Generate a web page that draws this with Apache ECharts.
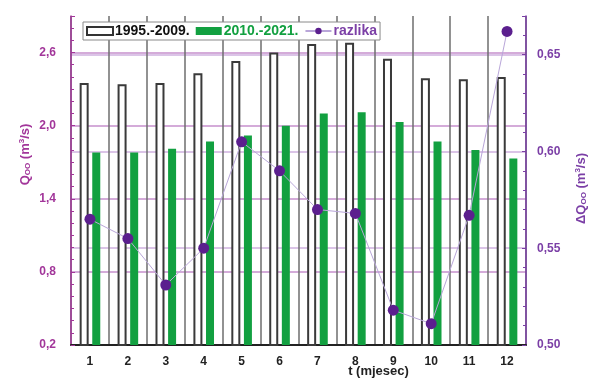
<!DOCTYPE html>
<html>
<head>
<meta charset="utf-8">
<script src="https://cdn.jsdelivr.net/npm/echarts@6/dist/echarts.min.js"></script>
<style>
html,body{margin:0;padding:0;background:#fff;}
#c{width:593px;height:379px;}
</style>
</head>
<body>
<div id="c"></div>
<script>
var months = ['1','2','3','4','5','6','7','8','9','10','11','12'];
var q1995 = [2.35, 2.34, 2.35, 2.43, 2.53, 2.60, 2.67, 2.68, 2.55, 2.39, 2.38, 2.40];
var q2010 = [1.78, 1.78, 1.81, 1.87, 1.92, 2.00, 2.10, 2.11, 2.03, 1.87, 1.80, 1.73];
var razlika = [0.565, 0.555, 0.531, 0.550, 0.605, 0.590, 0.570, 0.568, 0.518, 0.511, 0.567, 0.662];
var leftTicks = [0.2, 0.8, 1.4, 2.0, 2.6];
var rightTicks = [0.50, 0.55, 0.60, 0.65];

var FONT = '"Liberation Sans", Arial, sans-serif';
var MAG = '#a2369a';
var PUR = '#7b3fa6';
var GRID_PUR = '#c68fcd';

var chart = echarts.init(document.getElementById('c'), null, {renderer: 'canvas'});

function comma(v, dec) { return v.toFixed(dec).replace('.', ','); }

var option = {
  animation: false,
  backgroundColor: '#fff',
  grid: {left: 71, right: 67, top: 16, bottom: 34, outerBoundsMode: 'none', containLabel: false},
  legend: {
    left: 83, top: 22,
    backgroundColor: '#fff',
    borderColor: '#8a8a8a', borderWidth: 1,
    padding: [2, 3, 2, 3],
    itemGap: 6, itemWidth: 26, itemHeight: 8,
    textStyle: {fontFamily: FONT, fontWeight: 'bold', fontSize: 14, padding: [0, 0, 0, -3]},
    data: [
      {name: '1995.-2009.', icon: 'rect', itemStyle: {color: '#fff', borderColor: '#333', borderWidth: 2}, textStyle: {color: '#111'}},
      {name: '2010.-2021.', icon: 'rect', textStyle: {color: '#12a040'}},
      {name: 'razlika', textStyle: {color: PUR}}
    ]
  },
  xAxis: {
    type: 'category',
    data: months,
    boundaryGap: true,
    axisLine: {show: true, lineStyle: {color: '#222', width: 2}},
    axisTick: {show: false},
    splitLine: {show: true, lineStyle: {color: '#6e6e6e', width: 1.5}},
    axisLabel: {color: '#222', fontFamily: FONT, fontWeight: 'bold', fontSize: 12, margin: 11},
    name: 't (mjesec)',
    nameLocation: 'middle',
    nameMoveOverlap: false,
    nameGap: 20,
    nameTextStyle: {color: '#222', fontFamily: FONT, fontWeight: 'bold', fontSize: 13, padding: [0, 0, 0, 160]}
  },
  yAxis: [
    {
      type: 'value',
      min: 0.2, max: 2.9, interval: 0.6,
      axisLine: {show: true, lineStyle: {color: MAG, width: 1.5}},
      axisTick: {show: true, inside: true, length: 4, lineStyle: {color: MAG}},
      minorTick: {show: true, splitNumber: 6, length: 3, lineStyle: {color: MAG}},
      axisLabel: {
        color: MAG, fontFamily: FONT, fontWeight: 'bold', fontSize: 12, margin: 15,
        showMaxLabel: false,
        formatter: function (v) { return leftTicks.some(function (t) { return Math.abs(t - v) < 1e-6; }) ? comma(v, 1) : ''; }
      },
      splitLine: {show: true, lineStyle: {color: ['rgba(0,0,0,0)', GRID_PUR, GRID_PUR, GRID_PUR, GRID_PUR, 'rgba(0,0,0,0)'], width: 1.5}},
      name: '{a|Q}{s|OO}{a| (m}{p|3}{a|/s)}',
      nameLocation: 'middle',
      nameMoveOverlap: false,
      nameRotate: 90,
      nameGap: 39,
      nameTextStyle: {
        color: MAG, padding: [0, 0, 0, 52],
        rich: {
          a: {color: MAG, fontFamily: FONT, fontWeight: 'bold', fontSize: 13},
          s: {color: MAG, fontFamily: FONT, fontWeight: 'bold', fontSize: 8, verticalAlign: 'bottom', padding: [6, 0, 0, 0]},
          p: {color: MAG, fontFamily: FONT, fontWeight: 'bold', fontSize: 8, verticalAlign: 'top', padding: [0, 0, 6, 0]}
        }
      }
    },
    {
      type: 'value',
      position: 'right',
      min: 0.5, max: 0.67, interval: 0.05,
      axisLine: {show: true, lineStyle: {color: PUR, width: 1.5}},
      axisTick: {show: true, inside: true, length: 4, lineStyle: {color: PUR}},
      minorTick: {show: true, splitNumber: 5, length: 3, lineStyle: {color: PUR}},
      axisLabel: {
        color: PUR, fontFamily: FONT, fontWeight: 'bold', fontSize: 12, margin: 11,
        showMaxLabel: false,
        formatter: function (v) { return rightTicks.some(function (t) { return Math.abs(t - v) < 1e-6; }) ? comma(v, 2) : ''; }
      },
      splitLine: {show: true, lineStyle: {color: ['rgba(0,0,0,0)', '#cfb0df', '#cfb0df', '#cfb0df', 'rgba(0,0,0,0)'], width: 1.5}},
      name: '{a|ΔQ}{s|OO}{a| (m}{p|3}{a|/s)}',
      nameLocation: 'middle',
      nameMoveOverlap: false,
      nameRotate: 90,
      nameGap: 48,
      nameTextStyle: {
        color: PUR, padding: [0, 16, 0, 0],
        rich: {
          a: {color: PUR, fontFamily: FONT, fontWeight: 'bold', fontSize: 13},
          s: {color: PUR, fontFamily: FONT, fontWeight: 'bold', fontSize: 8, verticalAlign: 'bottom', padding: [6, 0, 0, 0]},
          p: {color: PUR, fontFamily: FONT, fontWeight: 'bold', fontSize: 8, verticalAlign: 'top', padding: [0, 0, 6, 0]}
        }
      }
    }
  ],
  series: [
    {
      name: '1995.-2009.', type: 'bar', yAxisIndex: 0,
      data: q1995, barWidth: 9, barGap: '40%',
      itemStyle: {color: '#fff', borderColor: '#3a3a3a', borderWidth: 2}
    },
    {
      name: '2010.-2021.', type: 'bar', yAxisIndex: 0,
      data: q2010, barWidth: 8,
      itemStyle: {color: '#12a040'}
    },
    {
      name: 'razlika', type: 'line', yAxisIndex: 1,
      data: razlika,
      symbol: 'circle', symbolSize: 11,
      itemStyle: {color: '#5b1f8e'},
      lineStyle: {color: '#b9a6d9', width: 1},
      z: 5
    }
  ]
};
chart.setOption(option);
</script>
</body>
</html>
